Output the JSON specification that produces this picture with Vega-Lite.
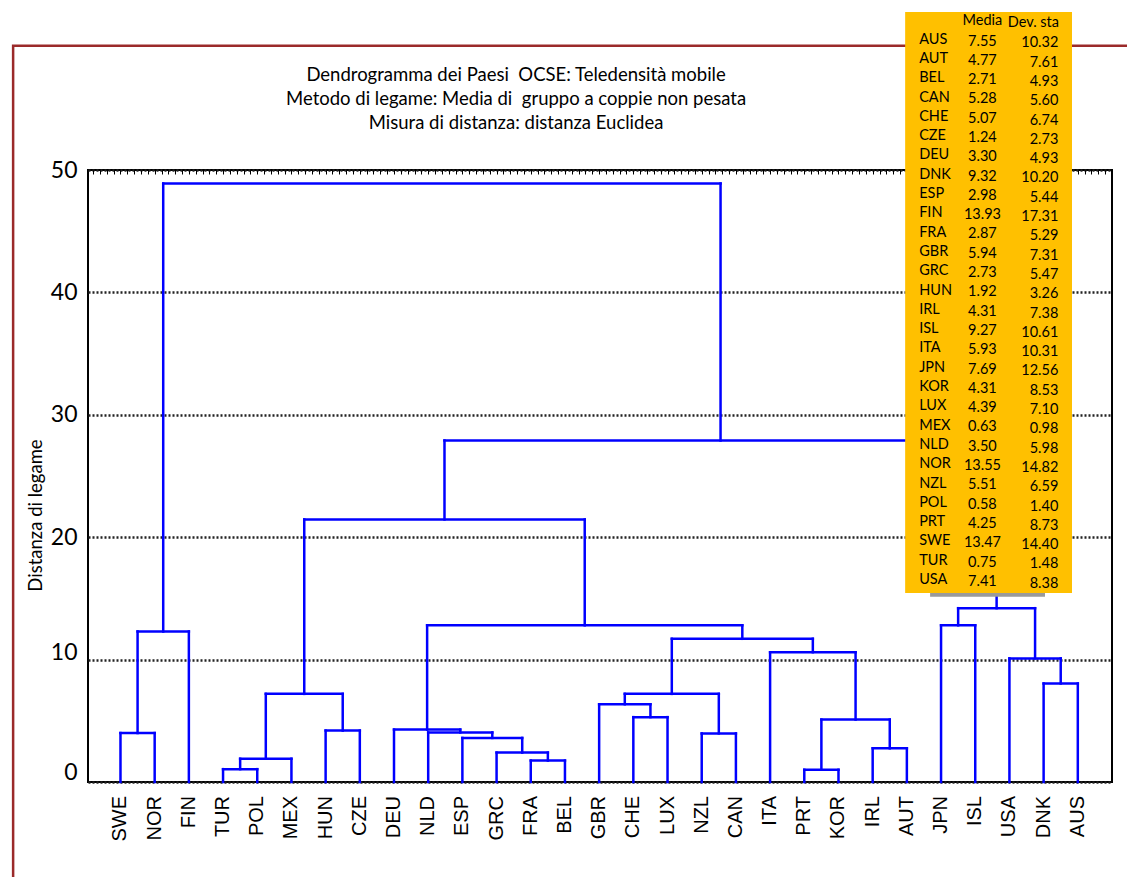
{
  "$schema": "https://vega.github.io/schema/vega-lite/v6.json",
  "width": 1024,
  "height": 612,
  "autosize": "none",
  "padding": {"left": 88, "top": 170, "right": 15, "bottom": 95},
  "background": "white",
  "config": {
    "view": {"stroke": "#000", "strokeWidth": 2},
    "text": {"color": "#000"}
  },
  "datasets": {
    "merges": [
      {"xl": 1, "hl": 0, "xr": 2, "hr": 0, "h": 4.0},
      {"xl": 1.5, "hl": 4.0, "xr": 3, "hr": 0, "h": 12.3},
      {"xl": 4, "hl": 0, "xr": 5, "hr": 0, "h": 1.05},
      {"xl": 4.5, "hl": 1.05, "xr": 6, "hr": 0, "h": 1.9},
      {"xl": 7, "hl": 0, "xr": 8, "hr": 0, "h": 4.2},
      {"xl": 5.25, "hl": 1.9, "xr": 7.5, "hr": 4.2, "h": 7.2},
      {"xl": 13, "hl": 0, "xr": 14, "hr": 0, "h": 1.75},
      {"xl": 12, "hl": 0, "xr": 13.5, "hr": 1.75, "h": 2.4},
      {"xl": 11, "hl": 0, "xr": 12.75, "hr": 2.4, "h": 3.6},
      {"xl": 10, "hl": 0, "xr": 11.875, "hr": 3.6, "h": 4.05},
      {"xl": 9, "hl": 0, "xr": 10.9375, "hr": 4.05, "h": 4.28},
      {"xl": 16, "hl": 0, "xr": 17, "hr": 0, "h": 5.3},
      {"xl": 15, "hl": 0, "xr": 16.5, "hr": 5.3, "h": 6.35},
      {"xl": 18, "hl": 0, "xr": 19, "hr": 0, "h": 3.97},
      {"xl": 15.75, "hl": 6.35, "xr": 18.5, "hr": 3.97, "h": 7.2},
      {"xl": 21, "hl": 0, "xr": 22, "hr": 0, "h": 1.0},
      {"xl": 23, "hl": 0, "xr": 24, "hr": 0, "h": 2.75},
      {"xl": 21.5, "hl": 1.0, "xr": 23.5, "hr": 2.75, "h": 5.1},
      {"xl": 20, "hl": 0, "xr": 22.5, "hr": 5.1, "h": 10.6},
      {"xl": 17.125, "hl": 7.2, "xr": 21.25, "hr": 10.6, "h": 11.7},
      {"xl": 9.96875, "hl": 4.28, "xr": 19.1875, "hr": 11.7, "h": 12.8},
      {"xl": 6.375, "hl": 7.2, "xr": 14.578125, "hr": 12.8, "h": 21.45},
      {"xl": 25, "hl": 0, "xr": 26, "hr": 0, "h": 12.8},
      {"xl": 28, "hl": 0, "xr": 29, "hr": 0, "h": 8.05},
      {"xl": 27, "hl": 0, "xr": 28.5, "hr": 8.05, "h": 10.1},
      {"xl": 25.5, "hl": 12.8, "xr": 27.75, "hr": 10.1, "h": 14.2},
      {"xl": 10.4765625, "hl": 21.45, "xr": 26.625, "hr": 14.2, "h": 27.9},
      {"xl": 2.25, "hl": 12.3, "xr": 18.55078125, "hr": 27.9, "h": 48.9}
    ],
    "countries": [
      {"code": "SWE", "pos": 1, "media": 13.47, "dev": 14.40},
      {"code": "NOR", "pos": 2, "media": 13.55, "dev": 14.82},
      {"code": "FIN", "pos": 3, "media": 13.93, "dev": 17.31},
      {"code": "TUR", "pos": 4, "media": 0.75, "dev": 1.48},
      {"code": "POL", "pos": 5, "media": 0.58, "dev": 1.40},
      {"code": "MEX", "pos": 6, "media": 0.63, "dev": 0.98},
      {"code": "HUN", "pos": 7, "media": 1.92, "dev": 3.26},
      {"code": "CZE", "pos": 8, "media": 1.24, "dev": 2.73},
      {"code": "DEU", "pos": 9, "media": 3.30, "dev": 4.93},
      {"code": "NLD", "pos": 10, "media": 3.50, "dev": 5.98},
      {"code": "ESP", "pos": 11, "media": 2.98, "dev": 5.44},
      {"code": "GRC", "pos": 12, "media": 2.73, "dev": 5.47},
      {"code": "FRA", "pos": 13, "media": 2.87, "dev": 5.29},
      {"code": "BEL", "pos": 14, "media": 2.71, "dev": 4.93},
      {"code": "GBR", "pos": 15, "media": 5.94, "dev": 7.31},
      {"code": "CHE", "pos": 16, "media": 5.07, "dev": 6.74},
      {"code": "LUX", "pos": 17, "media": 4.39, "dev": 7.10},
      {"code": "NZL", "pos": 18, "media": 5.51, "dev": 6.59},
      {"code": "CAN", "pos": 19, "media": 5.28, "dev": 5.60},
      {"code": "ITA", "pos": 20, "media": 5.93, "dev": 10.31},
      {"code": "PRT", "pos": 21, "media": 4.25, "dev": 8.73},
      {"code": "KOR", "pos": 22, "media": 4.31, "dev": 8.53},
      {"code": "IRL", "pos": 23, "media": 4.31, "dev": 7.38},
      {"code": "AUT", "pos": 24, "media": 4.77, "dev": 7.61},
      {"code": "JPN", "pos": 25, "media": 7.69, "dev": 12.56},
      {"code": "ISL", "pos": 26, "media": 9.27, "dev": 10.61},
      {"code": "USA", "pos": 27, "media": 7.41, "dev": 8.38},
      {"code": "DNK", "pos": 28, "media": 9.32, "dev": 10.20},
      {"code": "AUS", "pos": 29, "media": 7.55, "dev": 10.32}
    ]
  },
  "layer": [
    {
      "layer": [
        {
          "data": {"name": "merges"},
          "mark": {"type": "rule", "color": "#0000ff", "strokeWidth": 2.5, "strokeCap": "square"},
          "encoding": {
            "x": {
              "field": "xl", "type": "quantitative",
              "scale": {"domain": [0.05, 30], "nice": false, "zero": false},
              "axis": {"orient": "top", "labels": false, "domain": false, "grid": false, "ticks": true, "tickCount": 120, "tickSize": -4, "tickColor": "#000", "tickWidth": 1, "title": null}
            },
            "y": {
              "field": "hl", "type": "quantitative",
              "scale": {"domain": [0, 50], "nice": false, "zero": false},
              "axis": {
                "values": [0, 10, 20, 30, 40, 50],
                "grid": true, "gridColor": "#222", "gridDash": [2, 2], "gridWidth": 2.4,
                "domain": false, "ticks": false,
                "labelFont": "Lato", "labelFontSize": 23, "labelColor": "#000", "labelPadding": 11,
                "labelOffset": {"condition": [{"test": "datum.value === 0", "value": -10}, {"test": "datum.value === 10", "value": -7}], "value": 0},
                "title": "Distanza di legame", "titleFont": "Lato", "titleFontSize": 18.5, "titleFontWeight": "normal", "titleColor": "#000",
                "titleAngle": 270, "titleBaseline": "middle", "titleX": -53, "titleY": 345
              }
            },
            "y2": {"field": "h"}
          }
        },
        {
          "data": {"name": "merges"},
          "mark": {"type": "rule", "color": "#0000ff", "strokeWidth": 2.5, "strokeCap": "square"},
          "encoding": {
            "x": {"field": "xr", "type": "quantitative"},
            "y": {"field": "hr", "type": "quantitative"},
            "y2": {"field": "h"}
          }
        },
        {
          "data": {"name": "merges"},
          "mark": {"type": "rule", "color": "#0000ff", "strokeWidth": 2.5, "strokeCap": "square"},
          "encoding": {
            "x": {"field": "xl", "type": "quantitative"},
            "x2": {"field": "xr"},
            "y": {"field": "h", "type": "quantitative"}
          }
        },
        {
          "data": {"values": [{}]},
          "mark": {"type": "rect", "fill": null, "fillOpacity": 0, "stroke": "#9b2a2a", "strokeWidth": 2.5},
          "encoding": {
            "x": {"datum": -2.14, "type": "quantitative"},
            "x2": {"datum": 31.5},
            "y": {"datum": 60.15, "type": "quantitative"},
            "y2": {"datum": -12}
          }
        },
        {
          "data": {"values": [{}]},
          "mark": {
            "type": "text",
            "text": [
              "Dendrogramma dei Paesi \u00a0OCSE: Teledensità mobile",
              "Metodo di legame: Media di \u00a0gruppo a coppie non pesata",
              "Misura di distanza: distanza Euclidea"
            ],
            "align": "center", "baseline": "alphabetic", "lineHeight": 24.2,
            "font": "Lato", "fontSize": 18.5
          },
          "encoding": {
            "x": {"datum": 12.57, "type": "quantitative"},
            "y": {"datum": 57.3, "type": "quantitative"}
          }
        },
        {
          "data": {"name": "countries"},
          "mark": {"type": "text", "angle": 270, "align": "right", "baseline": "middle", "font": "Liberation Sans", "fontSize": 20, "yOffset": 14},
          "encoding": {
            "x": {"field": "pos", "type": "quantitative"},
            "y": {"datum": 0, "type": "quantitative"},
            "text": {"field": "code"}
          }
        },
        {
          "data": {"values": [{}]},
          "mark": {"type": "rule", "color": "#9a9a9a", "strokeWidth": 4},
          "encoding": {
            "x": {"datum": 24.68, "type": "quantitative"},
            "x2": {"datum": 28.04},
            "y": {"datum": 15.3, "type": "quantitative"}
          }
        },
        {
          "data": {"values": [{}]},
          "mark": {"type": "rect", "fill": "#ffc000"},
          "encoding": {
            "x": {"datum": 23.95, "type": "quantitative"},
            "x2": {"datum": 28.83},
            "y": {"datum": 62.9, "type": "quantitative"},
            "y2": {"datum": 15.45}
          }
        },
        {
          "data": {"values": [{}]},
          "mark": {"type": "text", "text": "Media", "align": "center", "baseline": "middle", "font": "Lato", "fontSize": 14.5},
          "encoding": {
            "x": {"datum": 26.21, "type": "quantitative"},
            "y": {"datum": 62.2, "type": "quantitative"}
          }
        },
        {
          "data": {"values": [{}]},
          "mark": {"type": "text", "text": "Dev. sta", "align": "right", "baseline": "middle", "font": "Lato", "fontSize": 14.5},
          "encoding": {
            "x": {"datum": 28.45, "type": "quantitative"},
            "y": {"datum": 61.97, "type": "quantitative"}
          }
        }
      ]
    },
    {
      "data": {"name": "countries"},
      "layer": [
        {
          "mark": {"type": "text", "align": "left", "baseline": "middle", "font": "Lato", "fontSize": 14.5},
          "encoding": {
            "x": {"datum": 24.36, "type": "quantitative"},
            "y": {"field": "code", "type": "ordinal", "sort": "ascending", "scale": {"type": "point", "range": [-130.3, 410], "padding": 0}, "axis": null},
            "text": {"field": "code"}
          }
        },
        {
          "mark": {"type": "text", "align": "center", "baseline": "middle", "font": "Lato", "fontSize": 14.5, "yOffset": 1.8},
          "encoding": {
            "x": {"datum": 26.21, "type": "quantitative"},
            "y": {"field": "code", "type": "ordinal", "sort": "ascending", "axis": null},
            "text": {"field": "media", "type": "quantitative", "format": ".2f"}
          }
        },
        {
          "mark": {"type": "text", "align": "right", "baseline": "middle", "font": "Lato", "fontSize": 14.5, "yOffset": 3.7},
          "encoding": {
            "x": {"datum": 28.43, "type": "quantitative"},
            "y": {"field": "code", "type": "ordinal", "sort": "ascending", "axis": null},
            "text": {"field": "dev", "type": "quantitative", "format": ".2f"}
          }
        }
      ]
    }
  ],
  "resolve": {"scale": {"y": "independent"}}
}
